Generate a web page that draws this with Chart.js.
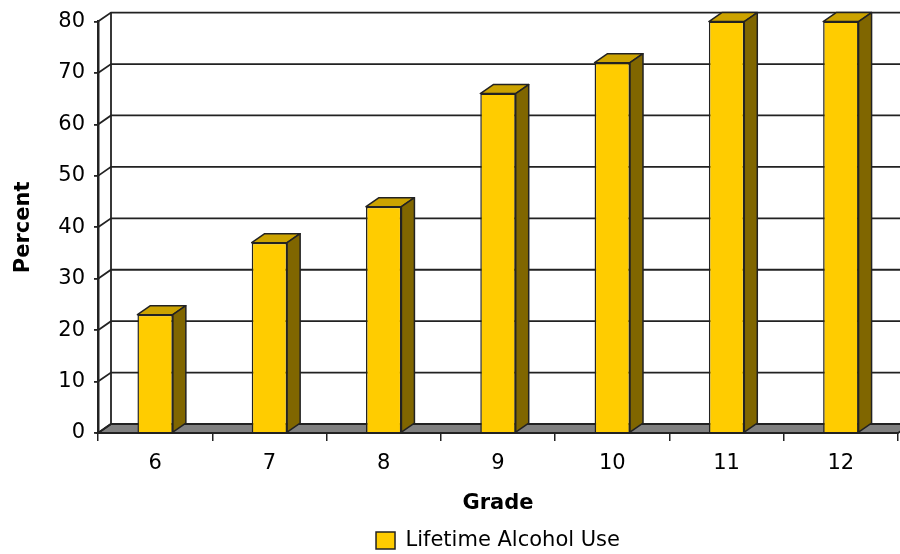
<!DOCTYPE html>
<html>
<head>
<meta charset="utf-8">
<script src="https://cdn.jsdelivr.net/npm/chart.js@4.4.1/dist/chart.umd.min.js"></script>
<style>
  html, body { margin: 0; padding: 0; background: #fff; }
</style>
</head>
<body>
<canvas id="chart" width="900" height="554"></canvas>
<script>
// data
const grades = ["6", "7", "8", "9", "10", "11", "12"];
const lifetimeUse = [23, 37, 44, 66, 72, 80, 80];
const seriesLabel = "Lifetime Alcohol Use";

// fake 3d depth of the old spreadsheet chart
const DX = 13, DY = 9;
const frontColor = "#FFCC00";
const topColor = "#CCA300";
const sideColor = "#806600";
const lineColor = "#222";

Chart.defaults.font.family = "'DejaVu Sans', Verdana, sans-serif";
Chart.defaults.color = "#000";

const depth3d = {
  id: "depth3d",
  beforeDatasetsDraw(chart) {
    const { ctx, chartArea: a, scales: { y } } = chart;
    const y0 = y.getPixelForValue(0);
    ctx.save();
    ctx.strokeStyle = lineColor;
    ctx.lineWidth = 1.8;

    // floor
    ctx.fillStyle = "#808080";
    ctx.beginPath();
    ctx.moveTo(a.left, y0);
    ctx.lineTo(a.left + DX, y0 - DY);
    ctx.lineTo(a.right + DX, y0 - DY);
    ctx.lineTo(a.right, y0);
    ctx.closePath();
    ctx.fill();
    ctx.stroke();

    // back wall lines
    y.ticks.forEach(t => {
      const py = y.getPixelForValue(t.value);
      ctx.beginPath();
      ctx.moveTo(a.left, py);
      ctx.lineTo(a.left + DX, py - DY);
      ctx.lineTo(a.right + DX, py - DY);
      ctx.stroke();
    });
    ctx.beginPath();
    ctx.moveTo(a.left + DX, y.getPixelForValue(y.max) - DY);
    ctx.lineTo(a.left + DX, y0 - DY);
    ctx.stroke();
    ctx.restore();
  },
  afterDatasetsDraw(chart) {
    const { ctx } = chart;
    const meta = chart.getDatasetMeta(0);
    ctx.save();
    ctx.strokeStyle = lineColor;
    ctx.lineWidth = 1.5;
    ctx.lineJoin = "round";
    meta.data.forEach(bar => {
      const { x, y, width, base } = bar.getProps(["x", "y", "width", "base"], true);
      const l = x - width / 2, r = x + width / 2;
      ctx.fillStyle = topColor;
      ctx.beginPath();
      ctx.moveTo(l, y);
      ctx.lineTo(l + DX, y - DY);
      ctx.lineTo(r + DX, y - DY);
      ctx.lineTo(r, y);
      ctx.closePath();
      ctx.fill();
      ctx.stroke();
      ctx.fillStyle = sideColor;
      ctx.beginPath();
      ctx.moveTo(r, y);
      ctx.lineTo(r + DX, y - DY);
      ctx.lineTo(r + DX, base - DY);
      ctx.lineTo(r, base);
      ctx.closePath();
      ctx.fill();
      ctx.stroke();
    });
    ctx.restore();
  }
};

new Chart(document.getElementById("chart"), {
  type: "bar",
  data: {
    labels: grades,
    datasets: [{
      label: seriesLabel,
      data: lifetimeUse,
      backgroundColor: frontColor,
      borderColor: lineColor,
      borderWidth: 1.5,
      categoryPercentage: 1,
      barPercentage: 0.31
    }]
  },
  options: {
    responsive: false,
    animation: false,
    layout: { padding: { top: 21, right: 2, bottom: -7, left: 0 } },
    plugins: {
      legend: {
        position: "bottom",
        fullSize: false,
        labels: { font: { size: 21 }, boxWidth: 19, boxHeight: 17, padding: 10 }
      },
      tooltip: { enabled: false }
    },
    scales: {
      x: {
        grid: { drawOnChartArea: false, tickLength: 8, color: lineColor, lineWidth: 1.5 },
        border: { color: lineColor, width: 2 },
        ticks: { font: { size: 21 }, padding: 10 },
        title: { display: true, text: "Grade", font: { size: 21, weight: "bold" }, padding: { top: 4, bottom: 4 } },
        afterFit(s) { s.height = 87; }
      },
      y: {
        min: 0,
        max: 80,
        ticks: { stepSize: 10, font: { size: 21 }, padding: 9 },
        grid: { drawOnChartArea: false, tickLength: 4, color: lineColor, lineWidth: 1.8 },
        border: { color: lineColor, width: 2.5 },
        title: { display: true, text: "Percent", font: { size: 21, weight: "bold" }, padding: { top: 11, bottom: 4 } },
        afterFit(s) { s.width = 98; }
      }
    }
  },
  plugins: [depth3d]
});
</script>
</body>
</html>
